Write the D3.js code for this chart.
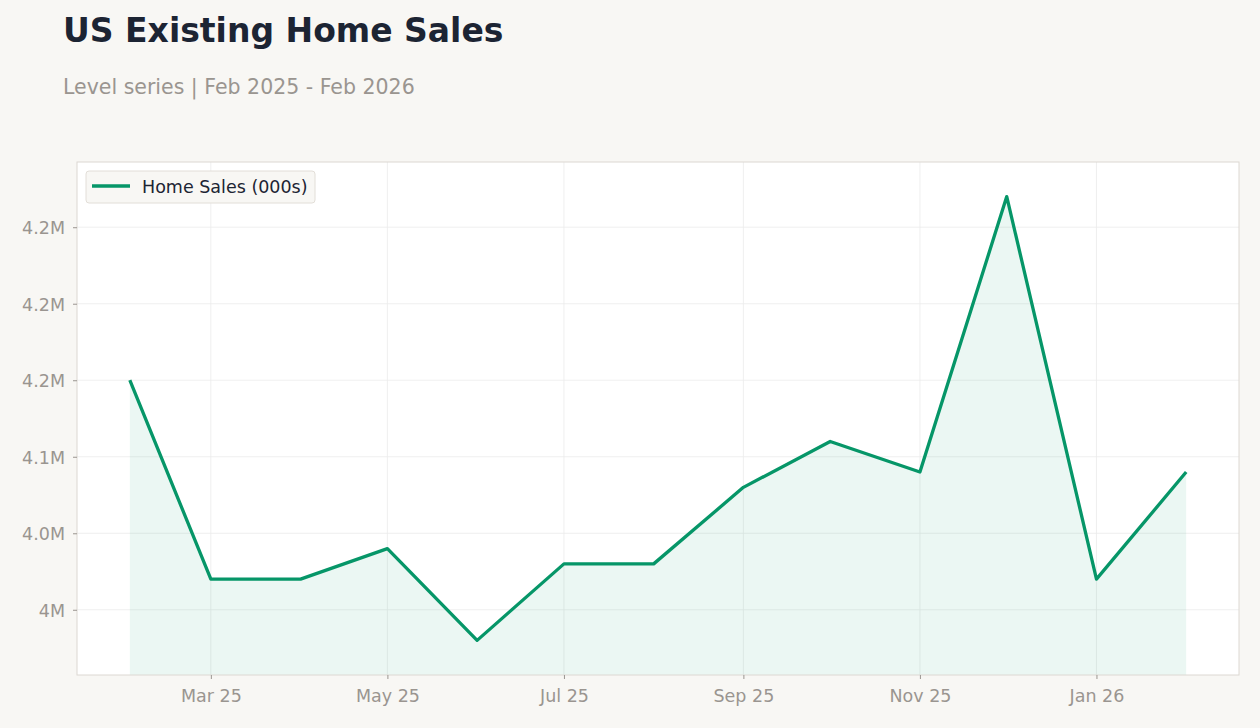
<!DOCTYPE html>
<html><head><meta charset="utf-8">
<script src="https://cdn.jsdelivr.net/npm/d3@7"></script>
<style>
html,body{margin:0;padding:0;background:#f8f7f4;}
svg{display:block;font-family:"DejaVu Sans",sans-serif;}
</style></head><body>
<svg id="c" width="1260" height="728"></svg>
<script>
const months = ["2025-02","2025-03","2025-04","2025-05","2025-06","2025-07","2025-08","2025-09","2025-10","2025-11","2025-12","2026-01","2026-02"];
const sales = [4150,4020,4020,4040,3980,4030,4030,4080,4110,4090,4270,4020,4090]; // thousands
const yTickValues = [4000,4050,4100,4150,4200,4250];
const yTickLabels = ["4M","4.0M","4.1M","4.2M","4.2M","4.2M"];
const xTickMonths = ["2025-03","2025-05","2025-07","2025-09","2025-11","2026-01"];
const seriesName = "Home Sales (000s)";
const title = "US Existing Home Sales";
const subtitle = "Level series | Feb 2025 - Feb 2026";

const parse = d3.timeParse("%Y-%m");
const data = months.map((m,i)=>({date:parse(m), v:sales[i]}));
const xTickDates = xTickMonths.map(parse);

const svg = d3.select("#c");
const L=77, R=1239, T=162, B=675;
const green = "#069668";
const gray = "#9a9590";

svg.append("text").attr("x",63).attr("y",42).attr("font-size",33).attr("font-weight","bold").attr("fill","#1c2433").text(title);
svg.append("text").attr("x",63).attr("y",94).attr("font-size",20.5).attr("fill",gray).text(subtitle);

const xExt = d3.extent(data,d=>d.date);
const xs0 = d3.scaleTime().domain(xExt).range([0,1]);
const x = d3.scaleTime().domain([xs0.invert(-0.05), xs0.invert(1.05)]).range([L,R]);
const yMin=d3.min(sales), yMax=d3.max(sales), pad=(yMax-yMin)*0.078;
const y = d3.scaleLinear().domain([yMin-pad, yMax+pad]).range([B,T]);

svg.append("rect").attr("x",L).attr("y",T).attr("width",R-L).attr("height",B-T).attr("fill","#fff");

const grid = svg.append("g");
grid.selectAll("line.gy").data(yTickValues).join("line")
  .attr("x1",L).attr("x2",R).attr("y1",d=>y(d)).attr("y2",d=>y(d))
  .attr("stroke","#ebebeb").attr("stroke-width",0.8);
grid.selectAll("line.gx").data(xTickDates).join("line")
  .attr("x1",d=>x(d)).attr("x2",d=>x(d)).attr("y1",T).attr("y2",B)
  .attr("stroke","#ebebeb").attr("stroke-width",0.8);

const area = d3.area().x(d=>x(d.date)).y0(B).y1(d=>y(d.v));
svg.append("path").datum(data).attr("d",area).attr("fill",green).attr("fill-opacity",0.08);
const line = d3.line().x(d=>x(d.date)).y(d=>y(d.v));
svg.append("path").datum(data).attr("d",line).attr("fill","none").attr("stroke",green).attr("stroke-width",3.3).attr("stroke-linejoin","round");

svg.append("rect").attr("x",L).attr("y",T).attr("width",R-L).attr("height",B-T).attr("fill","none").attr("stroke","#dcd8d2").attr("stroke-width",1);

const yAxis = d3.axisLeft(y).tickValues(yTickValues).tickFormat((d,i)=>yTickLabels[i]).tickSize(4).tickPadding(8);
const gy = svg.append("g").attr("transform",`translate(${L},0)`).call(yAxis);
gy.select(".domain").remove();
gy.selectAll("line").attr("stroke",gray);
gy.selectAll("text").attr("font-size",17.5).attr("fill",gray).attr("font-family","DejaVu Sans").attr("dy","0.36em");

const xAxis = d3.axisBottom(x).tickValues(xTickDates).tickFormat(d3.timeFormat("%b %y")).tickSize(4).tickPadding(11);
const gx = svg.append("g").attr("transform",`translate(0,${B})`).call(xAxis);
gx.select(".domain").remove();
gx.selectAll("line").attr("stroke",gray);
gx.selectAll("text").attr("font-size",17.5).attr("fill",gray).attr("font-family","DejaVu Sans");

const lg = svg.append("g");
lg.append("rect").attr("x",86).attr("y",171).attr("width",229).attr("height",32).attr("rx",3)
  .attr("fill","#f8f7f4").attr("stroke","#e2ded8");
lg.append("line").attr("x1",92).attr("x2",130).attr("y1",186).attr("y2",186).attr("stroke",green).attr("stroke-width",3.3);
lg.append("text").attr("x",142).attr("y",192.5).attr("font-size",17.5).attr("fill","#1c2433").text(seriesName);
</script>
</body></html>
